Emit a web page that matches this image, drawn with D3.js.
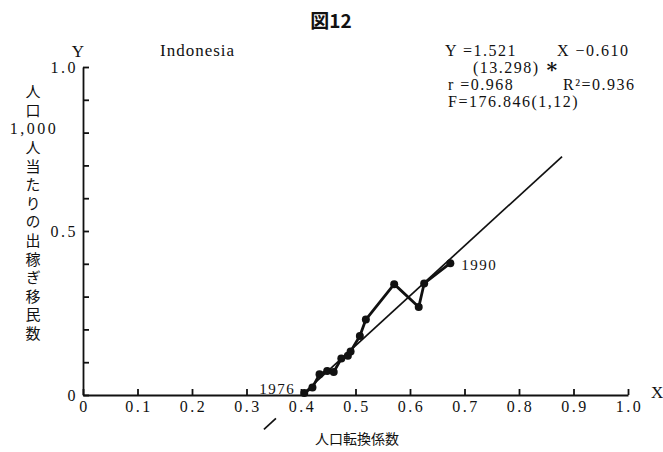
<!DOCTYPE html>
<html>
<head>
<meta charset="utf-8">
<script src="https://cdn.jsdelivr.net/npm/d3@7"></script>
<style>
	body { margin: 0; background: #fff; }
	svg text { fill: #111; }
	.num { font-family: "Liberation Serif", "DejaVu Serif", serif; }
	.jp { font-family: "Noto Sans CJK JP", sans-serif; }
</style>
</head>
<body>
<script>

// population transition coefficient (X) vs emigrants per 1,000 (Y), Indonesia
var xValues = [0.406, 0.421, 0.434, 0.448, 0.460, 0.474, 0.486, 0.491, 0.508, 0.519, 0.571, 0.616, 0.626, 0.674];
var yValues = [0.006, 0.023, 0.063, 0.073, 0.070, 0.111, 0.120, 0.133, 0.180, 0.230, 0.338, 0.268, 0.340, 0.402];
var yearLabels = ["1976", "1990"];

// regression Y = a X + b, drawn in two pieces (it breaks under the tick labels)
var slope = 1.521;
var intercept = -0.610;
var lineSegments = [[0.332, 0.354], [0.401, 0.879]];

var xTicks = [0, 0.1, 0.2, 0.3, 0.4, 0.5, 0.6, 0.7, 0.8, 0.9, 1.0];
var xTickLabels = ["0", "0.1", "0.2", "0.3", "0.4", "0.5", "0.6", "0.7", "0.8", "0.9", "1.0"];
var yTicks = [0, 0.1, 0.2, 0.3, 0.4, 0.5, 0.6, 0.7, 0.8, 0.9, 1.0];
var yTickLabels = ["0", "", "", "", "", "0.5", "", "", "", "", "1.0"];

// vertical axis title: [text, vertical?]
var yTitleParts = [["人口", true], ["1,000", false], ["人当たりの出稼ぎ移民数", true]];
var statLines = [
	[{t: "Y =1.521", x: 445}, {t: "X −0.610", x: 557}],
	[{t: "(13.298)", x: 473}, {t: "∗", x: 545}],
	[{t: "r =0.968", x: 448}, {t: "R²=0.936", x: 563}],
	[{t: "F=176.846(1,12)", x: 448}]
];

var width = 663,
	height = 452;

var x = d3.scaleLinear().domain([0, 1]).range([83, 628]);
var y = d3.scaleLinear().domain([0, 1]).range([395, 67]);

var svg = d3.select("body").append("svg")
	.attr("width", width)
	.attr("height", height);

// title
svg.append("text")
	.attr("class", "jp")
	.attr("x", 331)
	.attr("y", 28)
	.attr("text-anchor", "middle")
	.style("font-size", "19px")
	.style("font-weight", "bold")
	.text("図12");

// axes
var xAxis = d3.axisBottom(x)
	.tickValues(xTicks)
	.tickFormat(function(d, i) { return xTickLabels[i]; })
	.tickSizeInner(-6)
	.tickSizeOuter(0)
	.tickPadding(6);

var yAxis = d3.axisLeft(y)
	.tickValues(yTicks)
	.tickFormat(function(d, i) { return yTickLabels[i]; })
	.tickSizeInner(-6)
	.tickSizeOuter(0)
	.tickPadding(5);

var gx = svg.append("g")
	.attr("transform", "translate(0," + y(0) + ")")
	.call(xAxis);

var gy = svg.append("g")
	.attr("transform", "translate(" + x(0) + ",0)")
	.call(yAxis);

[gx, gy].forEach(function(g) {
	g.selectAll("path, line")
		.attr("stroke", "#111")
		.attr("stroke-width", 1.8);
	g.selectAll("text")
		.attr("class", "num")
		.style("font-size", "16px")
		.style("letter-spacing", "2.5px")
		.attr("fill", "#111");
});
gx.selectAll(".tick text").attr("dx", "1px");

// axis names
svg.append("text")
	.attr("class", "num")
	.attr("x", 78)
	.attr("y", 57)
	.attr("text-anchor", "middle")
	.style("font-size", "17px")
	.text("Y");

svg.append("text")
	.attr("class", "num")
	.attr("x", 651)
	.attr("y", 398)
	.style("font-size", "17px")
	.text("X");

svg.append("text")
	.attr("class", "num")
	.attr("x", 160)
	.attr("y", 56)
	.style("font-size", "17px")
	.style("letter-spacing", "1px")
	.text("Indonesia");

svg.append("text")
	.attr("class", "jp")
	.attr("x", 357)
	.attr("y", 444)
	.attr("text-anchor", "middle")
	.style("font-size", "14px")
	.text("人口転換係数");

// y title, written top to bottom with the number kept upright
var step = 18.6,
	titleY = 84;
yTitleParts.forEach(function(p) {
	var s = p[0];
	if (p[1]) {
		svg.append("text")
			.attr("class", "jp")
			.attr("x", 33)
			.attr("y", titleY)
			.style("writing-mode", "vertical-rl")
			.style("font-size", "15px")
			.style("letter-spacing", (step - 15) + "px")
			.text(s);
		titleY += s.length * step;
	} else {
		svg.append("text")
			.attr("class", "num")
			.attr("x", 34)
			.attr("y", titleY + 13)
			.attr("text-anchor", "middle")
			.style("font-size", "16px")
			.style("letter-spacing", "2.5px")
			.text(s);
		titleY += step;
	}
});

// statistics block
statLines.forEach(function(line, i) {
	line.forEach(function(p) {
		svg.append("text")
			.attr("class", "num")
			.attr("x", p.x)
			.attr("y", 56 + i * 17)
			.style("font-size", p.t === "∗" ? "20px" : "16px")
			.style("font-weight", p.t === "∗" ? "bold" : "normal")
			.style("letter-spacing", "1.5px")
			.text(p.t);
	});
});

// regression line
svg.append("g")
	.selectAll("line")
	.data(lineSegments)
	.enter().append("line")
	.attr("x1", function(d) { return x(d[0]); })
	.attr("y1", function(d) { return y(slope * d[0] + intercept); })
	.attr("x2", function(d) { return x(d[1]); })
	.attr("y2", function(d) { return y(slope * d[1] + intercept); })
	.attr("stroke", "#111")
	.attr("stroke-width", 1.7);

// observed path
var points = xValues.map(function(v, i) { return [v, yValues[i]]; });

svg.append("path")
	.datum(points)
	.attr("d", d3.line()
		.x(function(d) { return x(d[0]); })
		.y(function(d) { return y(d[1]); }))
	.attr("fill", "none")
	.attr("stroke", "#111")
	.attr("stroke-width", 2.8)
	.attr("stroke-linejoin", "round");

svg.append("g")
	.selectAll("circle")
	.data(points)
	.enter().append("circle")
	.attr("cx", function(d) { return x(d[0]); })
	.attr("cy", function(d) { return y(d[1]); })
	.attr("r", 4)
	.attr("fill", "#111");

// year labels
var first = points[0],
	last = points[points.length - 1];

svg.append("text")
	.attr("class", "num")
	.attr("x", x(first[0]) - 9)
	.attr("y", y(first[1]) + 1)
	.attr("text-anchor", "end")
	.style("font-size", "15px")
	.style("letter-spacing", "1.5px")
	.text(yearLabels[0]);

svg.append("text")
	.attr("class", "num")
	.attr("x", x(last[0]) + 11)
	.attr("y", y(last[1]) + 7)
	.style("font-size", "15px")
	.style("letter-spacing", "1.5px")
	.text(yearLabels[1]);

</script>
</body>
</html>
